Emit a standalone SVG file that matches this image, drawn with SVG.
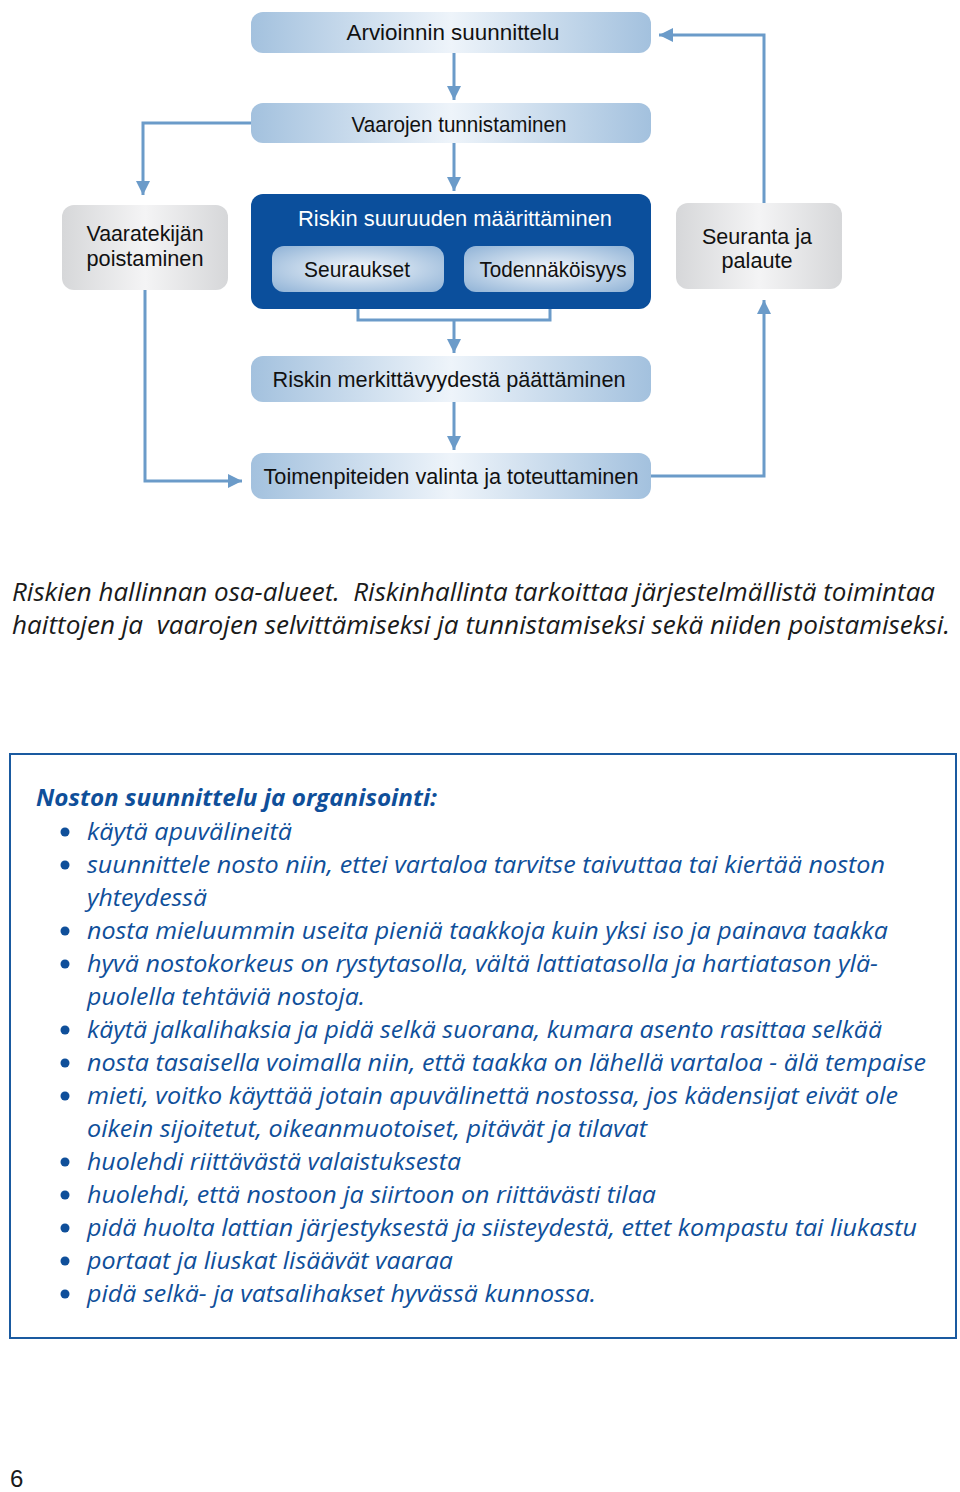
<svg xmlns="http://www.w3.org/2000/svg" width="960" height="1492" viewBox="0 0 960 1492">
<defs>
<linearGradient id="gBlue" x1="0" y1="0" x2="1" y2="0">
<stop offset="0" stop-color="#a3c1de"/>
<stop offset="0.5" stop-color="#eef4fa"/>
<stop offset="1" stop-color="#a3c1de"/>
</linearGradient>
<radialGradient id="gInner" cx="0.5" cy="0.5" r="0.7">
<stop offset="0" stop-color="#f4f8fc"/>
<stop offset="1" stop-color="#8fb2d6"/>
</radialGradient>
<linearGradient id="gGray" x1="0" y1="0" x2="1" y2="0">
<stop offset="0" stop-color="#d6d7d9"/>
<stop offset="0.5" stop-color="#f4f4f5"/>
<stop offset="1" stop-color="#d6d7d9"/>
</linearGradient>
<marker id="arr" viewBox="0 0 10 10" refX="10" refY="5" markerUnits="userSpaceOnUse" markerWidth="14" markerHeight="14" orient="auto">
<path d="M0,0 L10,5 L0,10 z" fill="#6b9bc9"/>
</marker>
</defs>
<style>
.lt{font-family:"Liberation Sans","DejaVu Sans",sans-serif;font-size:22px;fill:#111111;text-anchor:middle}
.wt{fill:#ffffff}
.con{fill:none;stroke:#6b9bc9;stroke-width:3}
.cap{font-family:"Open Sans","Noto Sans",sans-serif;font-style:italic;font-size:25px;fill:#1a1a1a;white-space:pre}
.bt{font-family:"Open Sans","Noto Sans",sans-serif;font-style:italic;font-size:24px;fill:#0f4f9a}
.hd{font-weight:bold}
.bul{fill:#0f4f9a}
</style>
<rect width="960" height="1492" fill="#ffffff"/>

<g id="connectors">
<path class="con" d="M454,53 V100" marker-end="url(#arr)"/>
<path class="con" d="M454,143 V191" marker-end="url(#arr)"/>
<path class="con" d="M358,292 V320 H550 V292"/>
<path class="con" d="M454,320 V353" marker-end="url(#arr)"/>
<path class="con" d="M454,402 V450" marker-end="url(#arr)"/>
<path class="con" d="M251,123 H143 V195" marker-end="url(#arr)"/>
<path class="con" d="M145,290 V481 H242" marker-end="url(#arr)"/>
<path class="con" d="M651,476 H764 V300" marker-end="url(#arr)"/>
<path class="con" d="M764,203 V35 H659" marker-end="url(#arr)"/>
</g>

<g id="n-arvioinnin">
<rect x="251" y="12" width="400" height="41" rx="12" fill="url(#gBlue)"/>
<text class="lt" x="453" y="40" textLength="213" lengthAdjust="spacingAndGlyphs">Arvioinnin suunnittelu</text>
</g>
<g id="n-vaarojen">
<rect x="251" y="103" width="400" height="40" rx="12" fill="url(#gBlue)"/>
<text class="lt" x="459" y="132" textLength="215" lengthAdjust="spacingAndGlyphs">Vaarojen tunnistaminen</text>
</g>
<g id="n-riskin-suuruus">
<rect x="251" y="194" width="400" height="115" rx="12" fill="#0b4f9c"/>
<text class="lt wt" x="455" y="226" textLength="314" lengthAdjust="spacingAndGlyphs">Riskin suuruuden määrittäminen</text>
</g>
<g id="n-seuraukset">
<rect x="272" y="246" width="172" height="46" rx="12" fill="url(#gInner)"/>
<text class="lt" x="357" y="277" textLength="106" lengthAdjust="spacingAndGlyphs">Seuraukset</text>
</g>
<g id="n-todennakoisyys">
<rect x="464" y="246" width="170" height="46" rx="12" fill="url(#gInner)"/>
<text class="lt" x="553" y="277" textLength="147" lengthAdjust="spacingAndGlyphs">Todennäköisyys</text>
</g>
<g id="n-vaaratekijan">
<rect x="62" y="205" width="166" height="85" rx="12" fill="url(#gGray)"/>
<text class="lt" x="145" y="241" textLength="117" lengthAdjust="spacingAndGlyphs">Vaaratekijän</text>
<text class="lt" x="145" y="266" textLength="117" lengthAdjust="spacingAndGlyphs">poistaminen</text>
</g>
<g id="n-seuranta">
<rect x="676" y="203" width="166" height="86" rx="12" fill="url(#gGray)"/>
<text class="lt" x="757" y="244" textLength="110" lengthAdjust="spacingAndGlyphs">Seuranta ja</text>
<text class="lt" x="757" y="268" textLength="71" lengthAdjust="spacingAndGlyphs">palaute</text>
</g>
<g id="n-merkittavyys">
<rect x="251" y="356" width="400" height="46" rx="12" fill="url(#gBlue)"/>
<text class="lt" x="449" y="387" textLength="353" lengthAdjust="spacingAndGlyphs">Riskin merkittävyydestä päättäminen</text>
</g>
<g id="n-toimenpiteet">
<rect x="251" y="453" width="400" height="46" rx="12" fill="url(#gBlue)"/>
<text class="lt" x="451" y="484" textLength="375" lengthAdjust="spacingAndGlyphs">Toimenpiteiden valinta ja toteuttaminen</text>
</g>

<g id="caption">
<text class="cap" x="12" y="601" textLength="923" lengthAdjust="spacingAndGlyphs">Riskien hallinnan osa-alueet.  Riskinhallinta tarkoittaa järjestelmällistä toimintaa</text>
<text class="cap" x="12" y="634" textLength="938" lengthAdjust="spacingAndGlyphs">haittojen ja  vaarojen selvittämiseksi ja tunnistamiseksi sekä niiden poistamiseksi.</text>
</g>

<g id="infobox">
<rect x="10" y="754" width="946" height="584" fill="none" stroke="#1a5aa0" stroke-width="2"/>
<text class="bt hd" x="36" y="806" textLength="401" lengthAdjust="spacingAndGlyphs">Noston suunnittelu ja organisointi:</text>
<g class="bul">
<circle cx="65" cy="832" r="4.5"/>
<circle cx="65" cy="865" r="4.5"/>
<circle cx="65" cy="931" r="4.5"/>
<circle cx="65" cy="964" r="4.5"/>
<circle cx="65" cy="1030" r="4.5"/>
<circle cx="65" cy="1063" r="4.5"/>
<circle cx="65" cy="1096" r="4.5"/>
<circle cx="65" cy="1162" r="4.5"/>
<circle cx="65" cy="1195" r="4.5"/>
<circle cx="65" cy="1228" r="4.5"/>
<circle cx="65" cy="1261" r="4.5"/>
<circle cx="65" cy="1294" r="4.5"/>
</g>
<text class="bt" x="87" y="840" textLength="205" lengthAdjust="spacingAndGlyphs">käytä apuvälineitä</text>
<text class="bt" x="87" y="873" textLength="798" lengthAdjust="spacingAndGlyphs">suunnittele nosto niin, ettei vartaloa tarvitse taivuttaa tai kiertää noston</text>
<text class="bt" x="87" y="906" textLength="120" lengthAdjust="spacingAndGlyphs">yhteydessä</text>
<text class="bt" x="87" y="939" textLength="801" lengthAdjust="spacingAndGlyphs">nosta mieluummin useita pieniä taakkoja kuin yksi iso ja painava taakka</text>
<text class="bt" x="87" y="972" textLength="791" lengthAdjust="spacingAndGlyphs">hyvä nostokorkeus on rystytasolla, vältä lattiatasolla ja hartiatason ylä-</text>
<text class="bt" x="87" y="1005" textLength="278" lengthAdjust="spacingAndGlyphs">puolella tehtäviä nostoja.</text>
<text class="bt" x="87" y="1038" textLength="795" lengthAdjust="spacingAndGlyphs">käytä jalkalihaksia ja pidä selkä suorana, kumara asento rasittaa selkää</text>
<text class="bt" x="87" y="1071" textLength="839" lengthAdjust="spacingAndGlyphs">nosta tasaisella voimalla niin, että taakka on lähellä vartaloa - älä tempaise</text>
<text class="bt" x="87" y="1104" textLength="811" lengthAdjust="spacingAndGlyphs">mieti, voitko käyttää jotain apuvälinettä nostossa, jos kädensijat eivät ole</text>
<text class="bt" x="87" y="1137" textLength="560" lengthAdjust="spacingAndGlyphs">oikein sijoitetut, oikeanmuotoiset, pitävät ja tilavat</text>
<text class="bt" x="87" y="1170" textLength="374" lengthAdjust="spacingAndGlyphs">huolehdi riittävästä valaistuksesta</text>
<text class="bt" x="87" y="1203" textLength="569" lengthAdjust="spacingAndGlyphs">huolehdi, että nostoon ja siirtoon on riittävästi tilaa</text>
<text class="bt" x="87" y="1236" textLength="830" lengthAdjust="spacingAndGlyphs">pidä huolta lattian järjestyksestä ja siisteydestä, ettet kompastu tai liukastu</text>
<text class="bt" x="87" y="1269" textLength="366" lengthAdjust="spacingAndGlyphs">portaat ja liuskat lisäävät vaaraa</text>
<text class="bt" x="87" y="1302" textLength="509" lengthAdjust="spacingAndGlyphs">pidä selkä- ja vatsalihakset hyvässä kunnossa.</text>
</g>

<text id="pagenum" x="10" y="1487" font-family="Liberation Sans, sans-serif" font-size="24" fill="#1a1a1a">6</text>
</svg>
